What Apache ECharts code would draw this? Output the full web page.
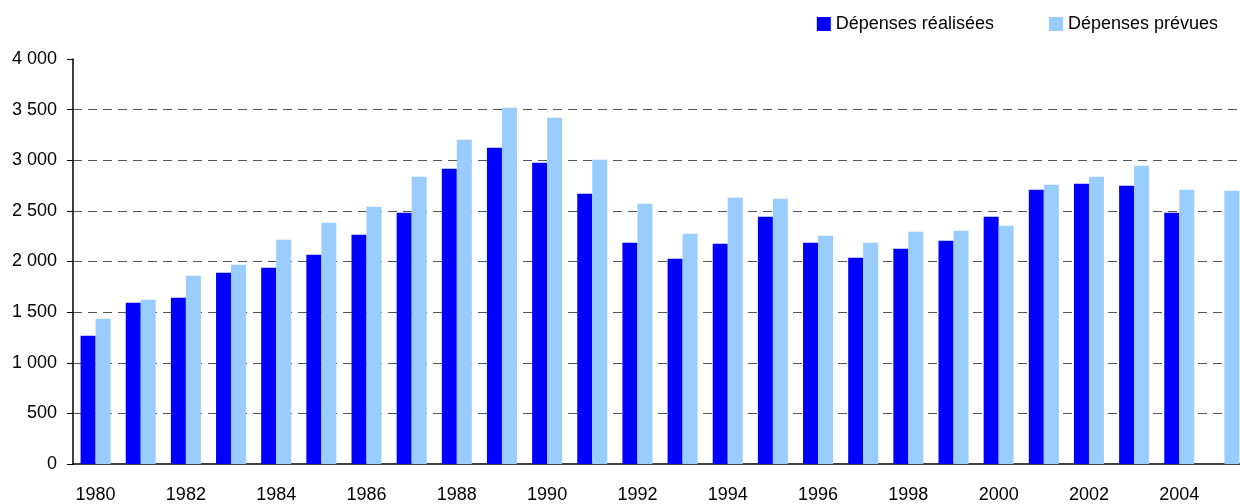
<!DOCTYPE html>
<html>
<head>
<meta charset="utf-8">
<script src="https://cdn.jsdelivr.net/npm/echarts@6/dist/echarts.min.js"></script>
<style>
    html, body { margin: 0; padding: 0; background: #fff; }
    #chart { width: 1240px; height: 504px; }
</style>
</head>
<body>
<div id="chart"></div>
<script>
//années
var annees = ['1980', '1981', '1982', '1983', '1984', '1985', '1986', '1987', '1988', '1989',
    '1990', '1991', '1992', '1993', '1994', '1995', '1996', '1997', '1998', '1999',
    '2000', '2001', '2002', '2003', '2004', '2005'];
//dépenses réalisées (2005 pas encore connue)
var realisees = [1267, 1593, 1642, 1889, 1939, 2067, 2265, 2482, 2917, 3124,
    2976, 2670, 2185, 2027, 2175, 2442, 2185, 2037, 2126, 2205,
    2442, 2709, 2768, 2748, 2482, null];
//dépenses prévues
var prevues = [1435, 1623, 1860, 1968, 2215, 2383, 2541, 2838, 3203, 3519,
    3420, 3005, 2571, 2274, 2630, 2620, 2255, 2185, 2294, 2304,
    2353, 2758, 2838, 2946, 2709, 2699];
var nomsSeries = ['Dépenses réalisées', 'Dépenses prévues'];

var police = "'Liberation Sans', Arial, sans-serif";

var chart = echarts.init(document.getElementById('chart'));
var option = {
    animation: false,
    legend: {
        right: 17,
        top: 10,
        itemWidth: 14,
        itemHeight: 14,
        itemGap: 55,
        icon: 'rect',
        textStyle: { fontFamily: police, fontSize: 18, color: '#000' },
        data: nomsSeries
    },
    grid: {
        left: 73,
        top: 59,
        bottom: 40,
        right: -7,
        containLabel: false,
        outerBoundsMode: 'none'
    },
    xAxis: {
        type: 'category',
        data: annees,
        boundaryGap: true,
        axisLine: { lineStyle: { color: '#000', width: 1.5 } },
        axisTick: { interval: 0, length: 6, lineStyle: { color: '#000' } },
        axisLabel: {
            interval: 1,
            margin: 22,
            color: '#000',
            fontFamily: police,
            fontSize: 18
        }
    },
    yAxis: {
        type: 'value',
        min: 0,
        max: 4000,
        interval: 500,
        axisLine: { show: true, lineStyle: { color: '#000', width: 1.5 } },
        axisTick: { show: true, length: 6, lineStyle: { color: '#000' } },
        axisLabel: {
            margin: 16,
            color: '#000',
            fontFamily: police,
            fontSize: 18,
            formatter: function (v) {
                return String(v).replace(/\B(?=(\d{3})+(?!\d))/g, ' ');
            }
        },
        splitLine: {
            show: true,
            lineStyle: {
                //pas de ligne à 0 ni à 4000
                color: ['transparent', '#555', '#555', '#555', '#555', '#555', '#555', '#555', 'transparent'],
                type: [9, 6],
                width: 1
            }
        }
    },
    series: [{
        name: nomsSeries[0],
        type: 'bar',
        data: realisees,
        barWidth: 15,
        barGap: '0%',
        itemStyle: { color: '#0000FF' }
    }, {
        name: nomsSeries[1],
        type: 'bar',
        data: prevues,
        barWidth: 15,
        barGap: '0%',
        itemStyle: { color: '#99CCFF' }
    }]
};
chart.setOption(option);
</script>
</body>
</html>
